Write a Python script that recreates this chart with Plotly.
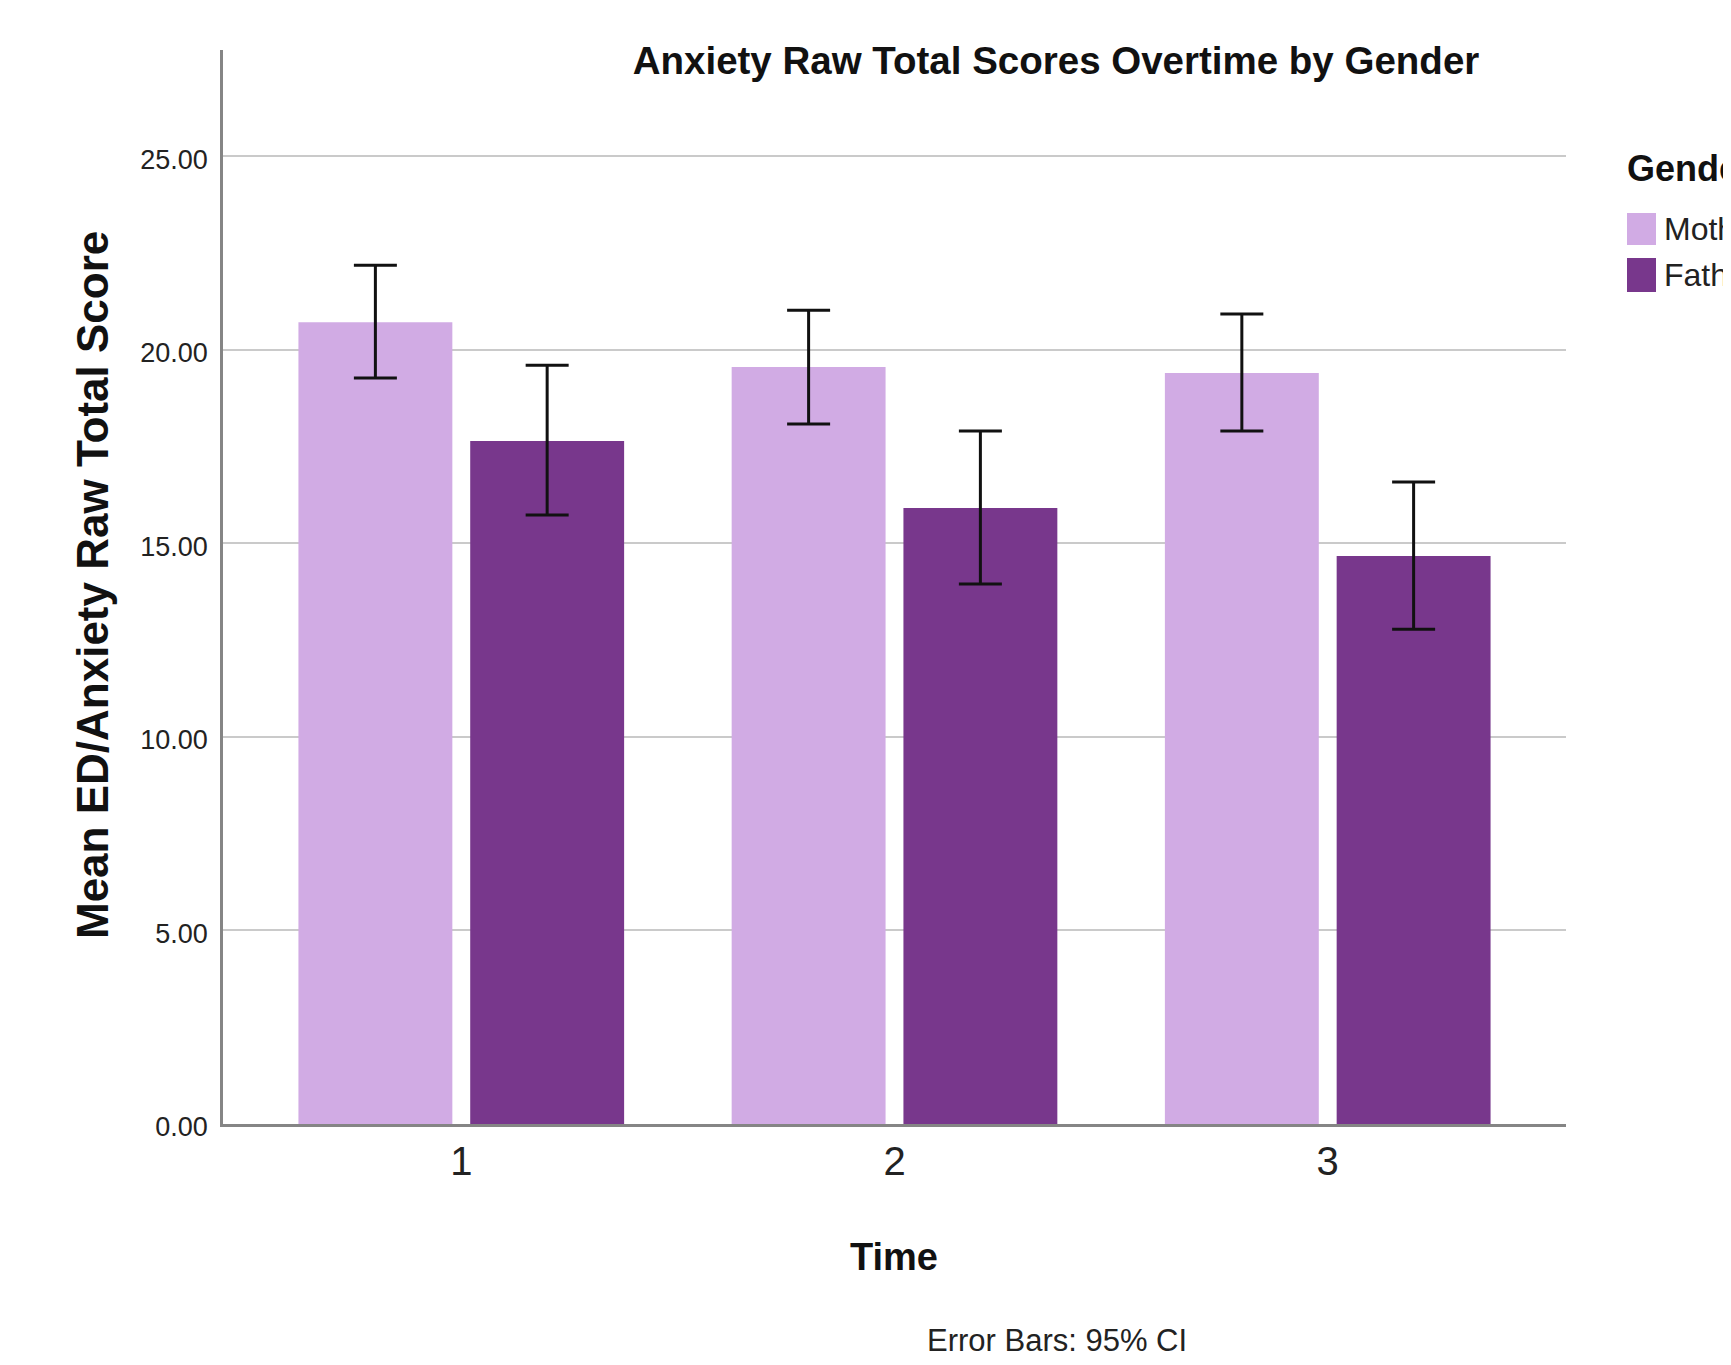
import plotly.graph_objects as go

# ---- data ----
times = ["1", "2", "3"]
mother_mean = [20.71, 19.55, 19.40]
mother_ci_low = [19.27, 18.08, 17.90]
mother_ci_high = [22.18, 21.02, 20.92]
father_mean = [17.64, 15.91, 14.67]
father_ci_low = [15.73, 13.95, 12.78]
father_ci_high = [19.60, 17.90, 16.58]
y_ticks = [0, 5, 10, 15, 20, 25]
y_tick_labels = ["0.00", "5.00", "10.00", "15.00", "20.00", "25.00"]

MOTHER_COLOR = "#D1ABE4"
FATHER_COLOR = "#78378C"
FONT = "Liberation Sans, Arial, sans-serif"

OFF = 8  # default page body margin
W, H = 1731 - OFF, 1365 - OFF
# plot area in page pixels
PL, PR, PT, PB = 223, 1566, 50, 1124
L, T = PL - OFF, PT - OFF
R, B = W - (PR - OFF), H - (PB - OFF)
PW, PH = PR - PL, PB - PT


def px(x):
    return (x - PL) / PW


def py(y):
    return (PB - y) / PH


def err(mean, low, high):
    return dict(
        type="data", symmetric=False,
        array=[h - m for m, h in zip(mean, high)],
        arrayminus=[m - l for m, l in zip(mean, low)],
        color="#111111", thickness=3, width=21.5,
    )


fig = go.Figure()
fig.add_trace(go.Bar(x=times, y=mother_mean, name="Mother", marker_color=MOTHER_COLOR,
                     marker_line_width=0, error_y=err(mother_mean, mother_ci_low, mother_ci_high),
                     showlegend=False))
fig.add_trace(go.Bar(x=times, y=father_mean, name="Father", marker_color=FATHER_COLOR,
                     marker_line_width=0, error_y=err(father_mean, father_ci_low, father_ci_high),
                     showlegend=False))

fig.update_layout(
    width=W, height=H,
    margin=dict(l=L, r=R, t=T, b=B, autoexpand=False),
    paper_bgcolor="white", plot_bgcolor="white",
    barmode="group", bargap=0.207, bargroupgap=0.104,
    font=dict(family=FONT, color="#111111"),
    title=dict(text="<b>Anxiety Raw Total Scores Overtime by Gender</b>",
               x=(1056 - OFF) / W, xanchor="center", y=1 - (61 - OFF) / H, yanchor="middle",
               font=dict(size=38.5, family=FONT, color="#111111")),
    xaxis=dict(type="category", range=[-0.55, 2.55], showline=True, linecolor="#858585",
               linewidth=2.5, ticks="", showgrid=False, zeroline=False,
               tickfont=dict(size=40, family=FONT, color="#222222")),
    yaxis=dict(range=[0, 27.74], tickvals=y_ticks, ticktext=y_tick_labels,
               showline=True, linecolor="#858585", linewidth=2.5, ticks="",
               showgrid=True, gridcolor="#CACACA", gridwidth=2, zeroline=False,
               ticklabelshift=3, ticklabelstandoff=7,
               tickfont=dict(size=27, family=FONT, color="#222222")),
)

# axis titles and note
fig.add_annotation(text="<b>Mean ED/Anxiety Raw Total Score</b>", xref="paper", yref="paper",
                   x=px(93), y=py(585), xanchor="center", yanchor="middle", textangle=-90,
                   showarrow=False, font=dict(size=44, family=FONT, color="#111111"))
fig.add_annotation(text="<b>Time</b>", xref="paper", yref="paper",
                   x=px(894), y=py(1257), xanchor="center", yanchor="middle",
                   showarrow=False, font=dict(size=38, family=FONT, color="#111111"))
fig.add_annotation(text="Error Bars: 95% CI", xref="paper", yref="paper",
                   x=px(1057), y=py(1340), xanchor="center", yanchor="middle",
                   showarrow=False, font=dict(size=31, family=FONT, color="#222222"))

# legend (drawn manually)
fig.add_annotation(text="<b>Gender</b>", xref="paper", yref="paper",
                   x=px(1625), y=py(168), xanchor="left", yanchor="middle",
                   showarrow=False, font=dict(size=36, family=FONT, color="#111111"))
for name, color, y0, y1 in [("Mother", MOTHER_COLOR, 213, 245), ("Father", FATHER_COLOR, 258, 292)]:
    fig.add_shape(type="rect", xref="paper", yref="paper", x0=px(1627), x1=px(1656),
                  y0=py(y1), y1=py(y0), fillcolor=color, line_width=0)
    fig.add_annotation(text=name, xref="paper", yref="paper", x=px(1662), y=py((y0 + y1) / 2),
                       xanchor="left", yanchor="middle", showarrow=False,
                       font=dict(size=32, family=FONT, color="#222222"))

fig.write_html("out.html")
